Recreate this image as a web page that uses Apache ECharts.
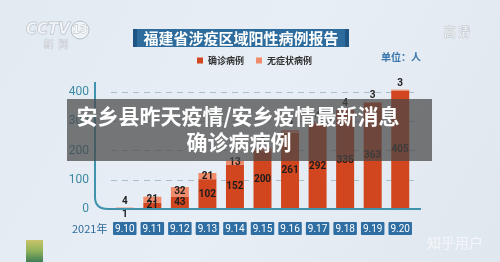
<!DOCTYPE html>
<html>
<head>
<meta charset="utf-8">
<script src="https://cdn.jsdelivr.net/npm/echarts@6/dist/echarts.min.js"></script>
<style>
  html, body { margin: 0; padding: 0; }
  #main { width: 500px; height: 262px; }
</style>
</head>
<body>
<div id="main"></div>
<script>
// 日期
var days = ['9.10', '9.11', '9.12', '9.13', '9.14', '9.15', '9.16', '9.17', '9.18', '9.19', '9.20'];
// 确诊病例
var confirmed = [1, 21, 43, 102, 152, 200, 261, 292, 335, 363, 405];
// 无症状病例 (9.15-9.18 partly hidden, estimated)
var asymptomatic = [4, 21, 32, 21, 13, 8, 9, 4, 4, 3, 3];
var yTicks = [0, 100, 200, 300, 400];

var FONT = '"Noto Sans CJK SC", sans-serif';
var axisColor = '#3f93ad';

var chart = echarts.init(document.getElementById('main'));

var option = {
  backgroundColor: new echarts.graphic.LinearGradient(0, 0, 1, 1, [
    { offset: 0, color: '#e2eaf2' },
    { offset: 0.5, color: '#e8eef5' },
    { offset: 1, color: '#dfe7ef' }
  ]),
  textStyle: { fontFamily: FONT },
  legend: {
    top: 51,
    left: 192,
    itemWidth: 6,
    itemHeight: 6,
    itemGap: 12,
    icon: 'rect',
    textStyle: { fontSize: 9, fontWeight: 'bold', color: '#333', fontFamily: FONT },
    data: ['确诊病例', '无症状病例']
  },
  grid: { left: 111, right: 86, top: 92, bottom: 53 },
  xAxis: {
    type: 'category',
    data: days,
    axisLine: { show: false },
    axisTick: { show: false },
    axisLabel: {
      interval: 0,
      margin: 13,
      color: '#fff',
      fontSize: 10,
      fontFamily: 'Roboto, sans-serif',
      backgroundColor: '#2f6ea3',
      padding: [2, 2, 1, 2],
      borderRadius: 1
    }
  },
  yAxis: {
    type: 'value',
    min: yTicks[0],
    max: yTicks[yTicks.length - 1],
    interval: 100,
    axisLine: { show: false },
    axisTick: { show: false },
    axisLabel: { margin: 22, color: '#3b8aa3', fontSize: 12, fontFamily: 'Roboto, sans-serif' },
    splitLine: { lineStyle: { color: '#a9c0cc', type: [6, 5], width: 1 } }
  },
  series: [
    {
      name: '确诊病例',
      type: 'bar',
      stack: 'total',
      barWidth: 18,
      clip: false,
      itemStyle: { color: '#d2461f' },
      data: confirmed.map(function (v) {
        return { value: v, label: { position: v < 10 ? 'bottom' : 'inside', distance: 0 } };
      }),
      label: {
        show: true,
        color: '#1d1d1d',
        fontSize: 10,
        fontWeight: 'bold',
        fontFamily: 'Roboto, sans-serif'
      }
    },
    {
      name: '无症状病例',
      type: 'bar',
      stack: 'total',
      barWidth: 18,
      clip: false,
      itemStyle: { color: '#f08c6b' },
      data: asymptomatic.map(function (v) {
        return { value: v, label: { position: v < 10 ? 'top' : 'inside', distance: 1 } };
      }),
      label: {
        show: true,
        color: '#1d1d1d',
        fontSize: 10,
        fontWeight: 'bold',
        fontFamily: 'Roboto, sans-serif'
      }
    }
  ],
  graphic: [
    // axis L shape with rounded corner
    { type: 'line', z: 50, shape: { x1: 95, y1: 82, x2: 95, y2: 197 }, style: { stroke: axisColor, lineWidth: 2 } },
    { type: 'bezierCurve', z: 50, shape: { x1: 95, y1: 197, cpx1: 95, cpy1: 209, x2: 108, y2: 209 }, style: { stroke: axisColor, lineWidth: 2, fill: null } },
    { type: 'line', z: 50, shape: { x1: 107, y1: 209, x2: 421, y2: 209 }, style: { stroke: axisColor, lineWidth: 2 } },
    // title banner
    { type: 'rect', shape: { x: 133, y: 29, width: 216, height: 18 }, style: { fill: '#2d6c9c' } },
    { type: 'rect', shape: { x: 133, y: 29, width: 4, height: 18 }, style: { fill: '#1f5584' } },
    { type: 'rect', shape: { x: 345, y: 29, width: 4, height: 18 }, style: { fill: '#1f5584' } },
    { type: 'text', x: 241, y: 38, style: { text: '福建省涉疫区域阳性病例报告', fill: '#fff', font: 'bold 15px ' + FONT, textAlign: 'center', textVerticalAlign: 'middle' } },
    { type: 'text', x: 421, y: 57, style: { text: '单位：人', fill: '#3a76ae', font: 'bold 10px ' + FONT, textAlign: 'right', textVerticalAlign: 'middle' } },
    { type: 'text', x: 72, y: 229, style: { text: '2021年', fill: '#2e6a9a', font: '11px ' + FONT, textVerticalAlign: 'middle' } },
    // station logo and marks
    { type: 'text', x: 26, y: 30, style: { text: 'CCTV', fill: 'rgba(255,255,255,0.55)', stroke: '#b7bec6', lineWidth: 1, font: 'italic bold 15px "DejaVu Sans", sans-serif', textVerticalAlign: 'middle' } },
    { type: 'circle', shape: { cx: 80, cy: 30, r: 9 }, style: { fill: 'rgba(255,255,255,0.45)', stroke: '#b7bec6', lineWidth: 1 } },
    { type: 'text', x: 80, y: 30, style: { text: '13', fill: 'rgba(255,255,255,0.8)', stroke: '#b0b7bf', lineWidth: 0.8, font: 'bold 11px "DejaVu Sans", sans-serif', textAlign: 'center', textVerticalAlign: 'middle' } },
    { type: 'text', x: 56, y: 44, style: { text: '新  闻', fill: 'rgba(255,255,255,0.6)', stroke: '#b9c0c8', lineWidth: 0.6, font: '10px ' + FONT, textAlign: 'center', textVerticalAlign: 'middle' } },
    { type: 'text', x: 457, y: 32, style: { text: '高 清', fill: 'rgba(255,255,255,0.55)', stroke: '#c3c9d0', lineWidth: 0.8, font: 'bold 12px ' + FONT, textAlign: 'center', textVerticalAlign: 'middle' } },
    // thumbnail at bottom left
    { type: 'rect', shape: { x: 26, y: 240, width: 17, height: 22 }, style: { fill: new echarts.graphic.LinearGradient(0, 0, 0, 1, [
      { offset: 0, color: '#c9c46a' }, { offset: 0.5, color: '#8fb25a' }, { offset: 1, color: '#3f7d57' }
    ]) } },
    // caption overlay
    { type: 'rect', z: 100, shape: { x: 67, y: 99, width: 365, height: 62 }, style: { fill: 'rgba(70,70,70,0.72)' } },
    { type: 'text', z: 101, x: 238, y: 116, style: { text: '安乡县昨天疫情/安乡疫情最新消息', fill: '#fff', font: 'bold 21px ' + FONT, textAlign: 'center', textVerticalAlign: 'middle' } },
    { type: 'text', z: 101, x: 239, y: 142, style: { text: '确诊病病例', fill: '#fff', font: 'bold 21px ' + FONT, textAlign: 'center', textVerticalAlign: 'middle' } },
    { type: 'text', z: 101, x: 455, y: 243, style: { text: '知乎用户', fill: '#f4f6fa', font: '14px ' + FONT, textAlign: 'center', textVerticalAlign: 'middle', shadowColor: 'rgba(0,0,0,0.25)', shadowBlur: 2 } }
  ]
};

chart.setOption(option);
</script>
</body>
</html>
